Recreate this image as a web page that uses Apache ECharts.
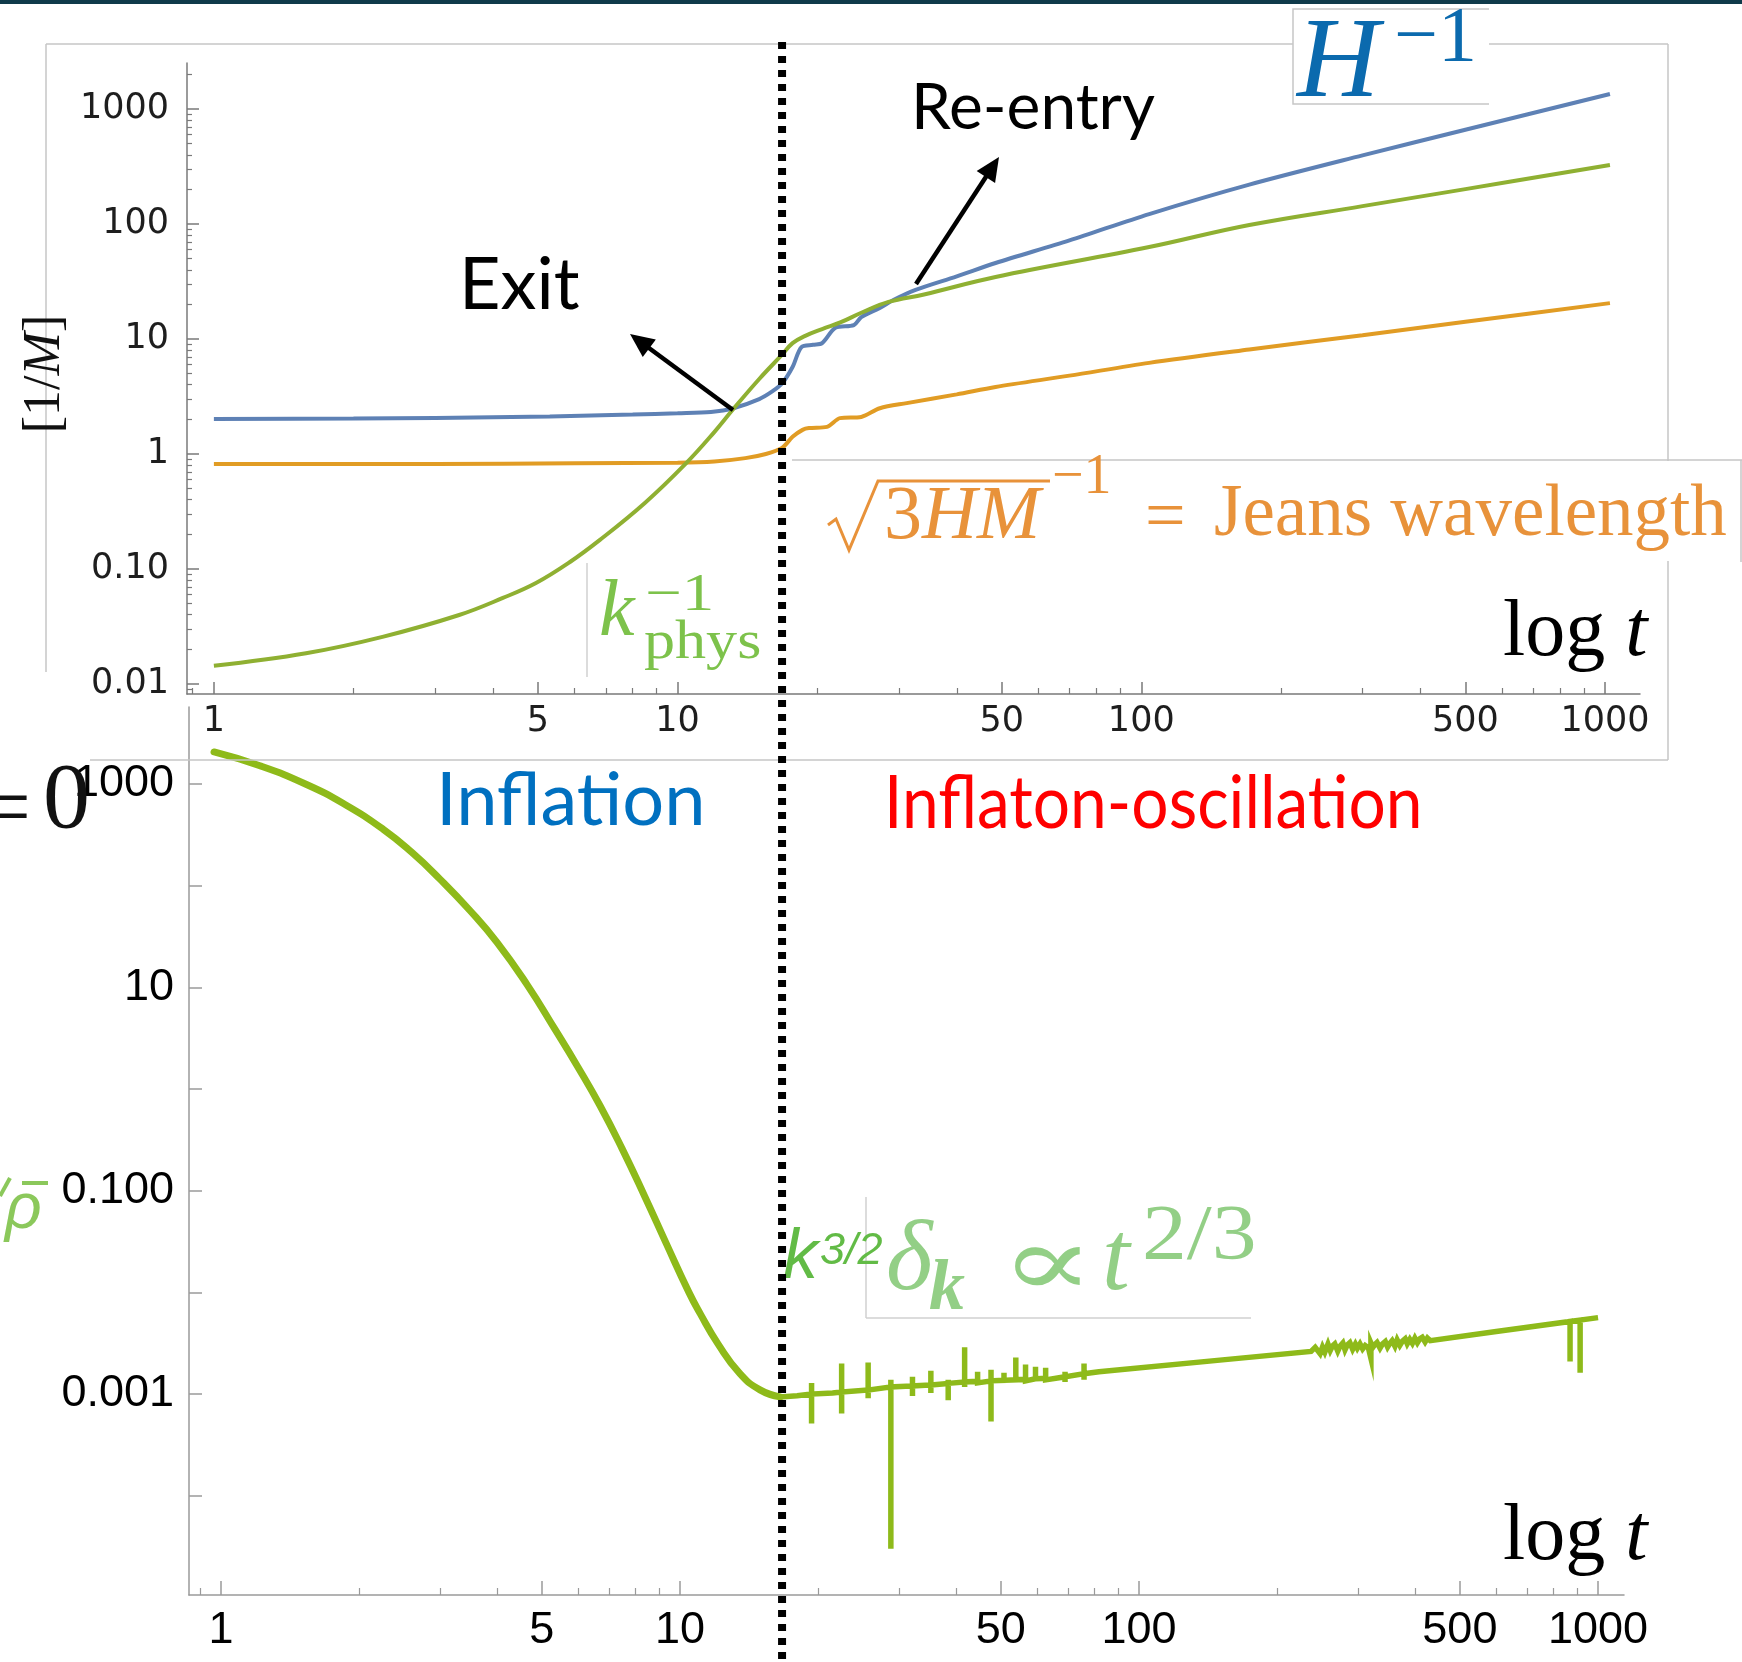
<!DOCTYPE html>
<html>
<head>
<meta charset="utf-8">
<script src="https://cdn.jsdelivr.net/npm/echarts@6/dist/echarts.min.js"></script>
<style>
  html, body { margin: 0; padding: 0; background: #ffffff; }
  #chart { width: 1742px; height: 1662px; }
</style>
</head>
<body>
<div id="chart"></div>
<script>
// ---------- tick values and labels ----------
const tMajorTicks = [1, 5, 10, 50, 100, 500, 1000];
const tTickLabels = ['1', '5', '10', '50', '100', '500', '1000'];
const tMinorTicks = [0.9, 2, 3, 4, 6, 7, 8, 9, 20, 30, 40, 60, 70, 80, 90,
                     200, 300, 400, 600, 700, 800, 900];

const lengthMajorTicks = [0.01, 0.1, 1, 10, 100, 1000];
const lengthTickLabels = ['0.01', '0.10', '1', '10', '100', '1000'];
const lengthMinorTicks = [0.009, 0.02, 0.03, 0.04, 0.05, 0.06, 0.07, 0.08, 0.09,
                          0.2, 0.3, 0.4, 0.5, 0.6, 0.7, 0.8, 0.9,
                          2, 3, 4, 5, 6, 7, 8, 9,
                          20, 30, 40, 50, 60, 70, 80, 90,
                          200, 300, 400, 500, 600, 700, 800, 900, 2000];

const contrastTicks = [0.0001, 0.001, 0.01, 0.1, 1, 10, 100, 1000];
const contrastLabelTicks = [0.001, 0.1, 10, 1000];
const contrastTickLabels = ['0.001', '0.100', '10', '1000'];

// end of inflation (dotted divider)
const inflationEndT = 16.8;

// ---------- upper panel: length scales [1/M] vs t ----------
// Hubble radius H^-1
const hubbleT = [1, 2, 3, 5.3, 8, 10, 11.8, 13.2, 15.0, 16.0, 16.8, 17.7, 18.5, 19.6, 20.5,
                 21.9, 24.0, 24.9, 27.3, 29.2, 32.6, 40, 48.5, 70, 104, 171, 300, 500, 1025];
const hubbleR = [2.01, 2.03, 2.06, 2.12, 2.2, 2.26, 2.32, 2.5, 3.0, 3.5, 4.1, 5.7, 8.5, 8.9, 9.2,
                 12.5, 13.2, 15.5, 18.6, 21.8, 26.7, 35, 45.8, 72, 122, 220, 395, 660, 1350];

// Jeans wavelength (sqrt(3HM))^-1
const jeansT = [1, 3, 6, 10, 12, 14, 15.5, 16.8, 17.7, 18.6, 19.2, 21.0, 22.4, 24.9, 27.3,
                31.2, 40, 48.5, 70, 104, 171, 300, 500, 1025];
const jeansR = [0.82, 0.82, 0.83, 0.84, 0.86, 0.92, 1.0, 1.13, 1.41, 1.62, 1.68, 1.72, 2.05, 2.1, 2.5,
                2.77, 3.3, 3.83, 4.8, 6.2, 8.1, 10.8, 14.1, 20.5];

// physical wavelength k_phys^-1
const kPhysT = [1, 1.58, 2.31, 3.38, 4.2, 4.95, 5.86, 6.8, 8.5, 10.4, 12.0, 13.2, 15.0, 16.8, 17.7, 18.8,
                20.5, 22.5, 24.9, 28.5, 34, 48.5, 104, 171, 300, 500, 1025];
const kPhysR = [0.0144, 0.0185, 0.0257, 0.0398, 0.056, 0.0755, 0.115, 0.179, 0.375, 0.82, 1.55, 2.47, 4.49, 7.3, 9.2, 10.6,
                12.2, 14.0, 16.9, 21.0, 24.4, 34.6, 63, 98, 143, 201, 326];

// ---------- lower panel: density contrast k^{3/2} delta_k ----------
// smooth decay during inflation
const contrastEarlyT = [0.966, 1.216, 1.532, 1.863, 2.254, 2.606, 3.0, 3.487, 3.994, 4.64, 5.34, 5.996,
                        6.694, 7.475, 8.386, 9.322, 10.46, 11.06, 12.10, 13.51, 14.94, 16.52];
const contrastEarlyV = [2065, 1510, 995, 629, 360, 212, 116, 57.0, 27.7, 10.7, 3.88, 1.64,
                        0.689, 0.261, 0.0873, 0.0307, 0.0100, 0.00622, 0.00312, 0.00159, 0.0011, 0.000938];

// growth during inflaton oscillation, with numerical spikes
const contrastLateT = [16.52, 18.0,
  19.35, 19.35, 19.35, 19.35, 21.5,
  22.5, 22.5, 22.5, 22.5,
  25.7, 25.7, 25.7, 25.7,
  28.8, 28.8, 28.8, 28.8,
  32.1, 32.1, 32.1, 32.1,
  35.2, 35.2, 35.2, 35.2,
  38.4, 38.4, 38.4, 38.4,
  41.7, 41.7, 41.7, 41.7,
  44.5, 44.5, 44.5, 44.5,
  47.6, 47.6, 47.6, 47.6,
  50.8, 50.8, 50.8, 50.8,
  53.9, 53.9, 53.9,
  56.6, 56.6, 56.6, 56.6,
  59.5, 59.5, 59.5, 59.5,
  62.6, 62.6, 62.6, 62.6,
  69, 69, 69, 69,
  75.9, 75.9, 75.9, 75.9,
  81.8, 150, 237,
  242, 248, 251, 254, 258, 261, 264, 267, 271, 274, 278, 281, 284, 288, 292, 296, 299, 303, 307, 311,
  316, 320, 320, 323, 326, 330, 335, 339, 344, 348, 352, 356, 361, 365, 370, 375,
  380, 384, 389, 394, 399, 404, 409, 414, 420, 425, 431,
  600, 869, 869, 869, 914, 914, 914, 1000];
const contrastLateV = [0.000938, 0.000965,
  0.001, 0.001288, 0.000513, 0.001, 0.001023,
  0.001047, 0.001995, 0.000646, 0.001047,
  0.001096, 0.002042, 0.000912, 0.001096,
  0.001175, 0.00138, 0.0000302, 0.001175,
  0.001202, 0.001479, 0.000955, 0.001202,
  0.00123, 0.001698, 0.001023, 0.00123,
  0.001274, 0.00138, 0.000871, 0.001274,
  0.001318, 0.002884, 0.001175, 0.001318,
  0.001334, 0.00166, 0.001288, 0.001334,
  0.001349, 0.001738, 0.000537, 0.001349,
  0.001365, 0.001622, 0.001288, 0.001365,
  0.00138, 0.002291, 0.00138,
  0.001396, 0.00195, 0.001349, 0.001396,
  0.001413, 0.001862, 0.001349, 0.001413,
  0.001429, 0.00182, 0.00138, 0.001429,
  0.001479, 0.00166, 0.001318, 0.001479,
  0.001585, 0.001995, 0.00138, 0.001585,
  0.00166, 0.002158, 0.00263,
  0.00288, 0.0025, 0.0029, 0.00258, 0.0031, 0.00268, 0.00298, 0.00312, 0.00265, 0.00295, 0.00318, 0.00272,
  0.00302, 0.0032, 0.00276, 0.0031, 0.00282, 0.00312, 0.00278, 0.0030,
  0.00285, 0.00225, 0.00318, 0.00288, 0.00305, 0.00322, 0.00283, 0.0031, 0.00328, 0.0029, 0.00315, 0.00335,
  0.00296, 0.00342, 0.00302, 0.00333,
  0.0035, 0.00312, 0.00345, 0.00315, 0.00355, 0.0032, 0.0035, 0.00362, 0.00325, 0.00355, 0.00335,
  0.00413, 0.005176, 0.002089, 0.005176, 0.005346, 0.001622, 0.005346, 0.00565];

// ---------- helpers ----------
const zip = (xs, ys) => xs.map((x, i) => [x, ys[i]]);
const nearestLabel = (ticks, labels) => v => {
  let best = 0, bd = Infinity;
  ticks.forEach((t, i) => { const d = Math.abs(Math.log10(t) - Math.log10(v)); if (d < bd) { bd = d; best = i; } });
  return labels[best];
};

const TOP_AXIS = '#7a7a7a';
const BOT_AXIS = '#9a9a9a';
const topLabelFont = { fontFamily: '"DejaVu Sans", sans-serif', fontSize: 35, color: '#1e1e1e' };
const botLabelFont = { fontFamily: '"Liberation Sans Narrow", "Arial Narrow", "Liberation Sans", sans-serif', fontSize: 45, color: '#000' };

function logAxis(opts) {
  return Object.assign({
    type: 'log', logBase: 10,
    splitLine: { show: false },
    minorTick: { show: false },
    minorSplitLine: { show: false }
  }, opts);
}

const chart = echarts.init(document.getElementById('chart'), null, { renderer: 'canvas' });

chart.setOption({
  animation: false,
  backgroundColor: '#ffffff',
  grid: [
    { left: 187, top: 63, width: 1453, height: 631 },
    { left: 189, top: 707, width: 1435, height: 888 }
  ],
  xAxis: [
    logAxis({ gridIndex: 0, min: 0.875, max: 1190, position: 'bottom',
      axisLine: { show: true, onZero: false, lineStyle: { color: TOP_AXIS, width: 1.5 } },
      axisTick: { show: true, inside: true, length: 12, customValues: tMajorTicks, lineStyle: { color: TOP_AXIS, width: 1.5 } },
      axisLabel: Object.assign({ show: true, customValues: tMajorTicks, margin: 10,
        formatter: nearestLabel(tMajorTicks, tTickLabels) }, topLabelFont) }),
    logAxis({ gridIndex: 0, min: 0.875, max: 1190, position: 'bottom',
      axisLine: { show: false, onZero: false },
      axisTick: { show: true, inside: true, length: 6, customValues: tMinorTicks, lineStyle: { color: TOP_AXIS, width: 1.2 } },
      axisLabel: { show: false } }),
    logAxis({ gridIndex: 1, min: 0.852, max: 1139, position: 'bottom',
      axisLine: { show: true, onZero: false, lineStyle: { color: BOT_AXIS, width: 1.5 } },
      axisTick: { show: true, inside: true, length: 14, customValues: tMajorTicks, lineStyle: { color: BOT_AXIS, width: 1.5 } },
      axisLabel: Object.assign({ show: true, customValues: tMajorTicks, margin: 13,
        formatter: nearestLabel(tMajorTicks, tTickLabels) }, botLabelFont) }),
    logAxis({ gridIndex: 1, min: 0.852, max: 1139, position: 'bottom',
      axisLine: { show: false, onZero: false },
      axisTick: { show: true, inside: true, length: 7, customValues: tMinorTicks, lineStyle: { color: BOT_AXIS, width: 1.2 } },
      axisLabel: { show: false } })
  ],
  yAxis: [
    logAxis({ gridIndex: 0, min: 0.00818, max: 2512, position: 'left',
      axisLine: { show: true, onZero: false, lineStyle: { color: TOP_AXIS, width: 1.5 } },
      axisTick: { show: true, inside: true, length: 12, customValues: lengthMajorTicks, lineStyle: { color: TOP_AXIS, width: 1.5 } },
      axisLabel: Object.assign({ show: true, customValues: lengthMajorTicks, margin: 18,
        formatter: nearestLabel(lengthMajorTicks, lengthTickLabels) }, topLabelFont) }),
    logAxis({ gridIndex: 0, min: 0.00818, max: 2512, position: 'left',
      axisLine: { show: false, onZero: false },
      axisTick: { show: true, inside: true, length: 5, customValues: lengthMinorTicks, lineStyle: { color: TOP_AXIS, width: 1.2 } },
      axisLabel: { show: false } }),
    logAxis({ gridIndex: 1, min: 1.057e-5, max: 5715, position: 'left',
      axisLine: { show: true, onZero: false, lineStyle: { color: BOT_AXIS, width: 1.5 } },
      axisTick: { show: true, inside: true, length: 13, customValues: contrastTicks, lineStyle: { color: BOT_AXIS, width: 1.5 } },
      axisLabel: Object.assign({ show: true, customValues: contrastLabelTicks, margin: 15,
        formatter: nearestLabel(contrastLabelTicks, contrastTickLabels) }, botLabelFont) })
  ],
  series: [
    { name: 'H^-1', type: 'line', xAxisIndex: 0, yAxisIndex: 0, showSymbol: false, smooth: 0.3,
      data: zip(hubbleT, hubbleR), lineStyle: { color: '#5E81B5', width: 4 }, z: 3 },
    { name: 'Jeans', type: 'line', xAxisIndex: 0, yAxisIndex: 0, showSymbol: false, smooth: 0.3,
      data: zip(jeansT, jeansR), lineStyle: { color: '#E19C24', width: 4 }, z: 3 },
    { name: 'k_phys^-1', type: 'line', xAxisIndex: 0, yAxisIndex: 0, showSymbol: false, smooth: 0.4,
      data: zip(kPhysT, kPhysR), lineStyle: { color: '#8FB032', width: 4 }, z: 4 },
    { name: 'contrast-inflation', type: 'line', xAxisIndex: 2, yAxisIndex: 2, showSymbol: false, smooth: 0.5,
      data: zip(contrastEarlyT, contrastEarlyV), lineStyle: { color: '#8EBA1A', width: 7, cap: 'round' }, z: 3 },
    { name: 'contrast-oscillation', type: 'line', xAxisIndex: 2, yAxisIndex: 2, showSymbol: false, smooth: false,
      data: zip(contrastLateT, contrastLateV), lineStyle: { color: '#8EBA1A', width: 5.5, join: 'miter' }, z: 3 }
  ]
});

// ---------- annotations ----------
const serif = '"Liberation Serif", "Times New Roman", serif';
const sans = 'Lato, "Open Sans", sans-serif';
const FRAME = '#c6c6c6';

function arrow(x1, y1, x2, y2) {
  const dx = x2 - x1, dy = y2 - y1, len = Math.hypot(dx, dy);
  const ux = dx / len, uy = dy / len, L = 24, W = 11;
  const bx = x2 - ux * L, by = y2 - uy * L;
  return [
    { type: 'line', z: 60, shape: { x1, y1, x2: bx + ux * 3, y2: by + uy * 3 }, style: { stroke: '#000', lineWidth: 4.5 } },
    { type: 'polygon', z: 60, shape: { points: [[x2, y2], [bx - uy * W, by + ux * W], [bx + uy * W, by - ux * W]] }, style: { fill: '#000' } }
  ];
}
function txt(x, y, text, font, fill, extra, align) {
  return Object.assign({ type: 'text', x, y, z: 70,
    style: { text, font, fill, align: align || 'left', verticalAlign: 'middle' } }, extra || {});
}
function seg(x1, y1, x2, y2, stroke, w, z) {
  return { type: 'line', z: z || 50, shape: { x1, y1, x2, y2 }, style: { stroke, lineWidth: w } };
}
function logT(y) {
  return { type: 'text', x: 1503, y, z: 70, style: {
    text: '{a|log }{b|t}', align: 'left', verticalAlign: 'middle',
    rich: { a: { fontFamily: serif, fontSize: 80, fill: '#000' },
            b: { fontFamily: serif, fontSize: 80, fontStyle: 'italic', fill: '#000' } } } };
}

const divX = chart.convertToPixel({ xAxisIndex: 0 }, inflationEndT);

const JEANS = '#E8923A';
const KPHYS = '#7DC24B';
const GROWTH = '#93CF86';

const elements = [
  // dark strip along the top edge
  { type: 'rect', z: 50, shape: { x: 0, y: 0, width: 1742, height: 4 }, style: { fill: '#0f3a4a' } },

  // frame of the upper panel
  seg(46, 44, 46, 672, FRAME, 1.5),
  seg(46, 44, 1668, 44, FRAME, 1.5),
  seg(1668, 44, 1668, 760, FRAME, 1.5),
  seg(90, 760, 1668, 760, FRAME, 1.5),
  { type: 'rect', z: 52, shape: { x: 0, y: 674, width: 92, height: 85 }, style: { fill: '#ffffff' } },

  // H^-1 tag
  { type: 'rect', z: 55, shape: { x: 1293, y: 9, width: 196, height: 95 }, style: { fill: '#ffffff' } },
  { type: 'polyline', z: 56, shape: { points: [[1489, 9], [1293, 9], [1293, 104], [1489, 104]] }, style: { stroke: FRAME, lineWidth: 1.5, fill: null } },
  txt(1297, 66, 'H', 'italic 114px ' + serif, '#0B6AAE'),
  txt(1394, 40, '\u22121', '78px ' + serif, '#0B6AAE'),

  // Jeans wavelength tag
  { type: 'rect', z: 55, shape: { x: 792, y: 461, width: 950, height: 100 }, style: { fill: '#ffffff' } },
  seg(792, 460, 1742, 460, FRAME, 1.5, 56),
  seg(1741, 460, 1741, 562, FRAME, 1.5, 56),
  { type: 'polyline', z: 70, shape: { points: [[828, 525], [836, 519], [849, 550], [878, 481], [1050, 481]] },
    style: { stroke: JEANS, lineWidth: 3, fill: null } },
  { type: 'text', x: 884, y: 518, z: 70, style: {
      text: '{u|3}{i|HM}', verticalAlign: 'middle', align: 'left',
      rich: { u: { fontFamily: serif, fontSize: 76, fill: JEANS },
              i: { fontFamily: serif, fontSize: 76, fontStyle: 'italic', fill: JEANS } } } },
  txt(1052, 478, '\u22121', '56px ' + serif, JEANS),
  txt(1145, 520, '=', '72px ' + serif, JEANS),
  txt(1214, 516, 'Jeans wavelength', '73px ' + serif, JEANS),

  // k_phys^-1 tag
  seg(587, 563, 587, 677, '#d0d0d0', 1.5),
  txt(599, 614, 'k', 'italic 80px ' + serif, KPHYS),
  txt(645, 596, '\u22121', '52px ' + serif, KPHYS, { scaleX: 1.25 }),
  txt(644, 644, 'phys', '54px ' + serif, KPHYS, { scaleX: 1.15 }),

  // axis titles
  { type: 'text', x: 45, y: 374, rotation: Math.PI / 2, z: 70, style: {
      text: '{a|[1/}{b|M}{a|]}', align: 'center', verticalAlign: 'middle',
      rich: { a: { fontFamily: serif, fontSize: 52, fill: '#111' },
              b: { fontFamily: serif, fontSize: 52, fontStyle: 'italic', fill: '#111' } } } },
  logT(634),
  logT(1538),

  // crossing annotations
  txt(459, 286, 'Exit', '72px ' + sans, '#000'),
  txt(911, 108, 'Re-entry', '64px ' + sans, '#000'),
  ...arrow(733, 410, 630, 334),
  ...arrow(916, 284, 999, 157),

  // epochs
  txt(436, 801, 'Inflation', '74px ' + sans, '#0070C0'),
  txt(884, 804, 'Inflaton-oscillation', '74px ' + sans, '#FF0000', { scaleX: 0.89 }),

  // left margin pieces of the lower panel title
  txt(31, 813, '=', '89px ' + serif, '#111', null, 'right'),
  txt(90, 802, '0', '94px ' + serif, '#111', null, 'right'),
  seg(0, 1196, 10, 1178, '#8BC85B', 4, 70),
  seg(22, 1183, 48, 1183, '#8BC85B', 4, 70),
  txt(5, 1210, '\u03c1', 'italic 64px "Liberation Sans", sans-serif', '#8BC85B'),

  // growth-law tag
  seg(866, 1197, 866, 1318, '#d0d0d0', 1.5),
  seg(866, 1318, 1251, 1318, '#d0d0d0', 1.5),
  txt(783, 1259, 'k', 'italic 70px "Liberation Sans", sans-serif', '#62BB46'),
  txt(820, 1251, '3/2', 'italic 45px "Liberation Sans", sans-serif', '#62BB46'),
  txt(886, 1263, '\u03b4', 'italic 100px ' + serif, GROWTH),
  txt(929, 1290, 'k', 'italic bold 72px ' + serif, GROWTH),
  txt(1000, 1270, '\u221d', '100px "DejaVu Serif", serif', GROWTH, { scaleX: 1.4 }),
  txt(1102, 1263, 't', 'italic 100px ' + serif, GROWTH),
  txt(1142, 1238, '2/3', '78px ' + serif, GROWTH, { scaleX: 1.15 }),

  // divider between the two epochs
  { type: 'line', z: 80, shape: { x1: divX, y1: 42, x2: divX, y2: 1662 },
    style: { stroke: '#000', lineWidth: 8, lineDash: [7, 7] } }
];

chart.setOption({ graphic: { elements } });
</script>
</body>
</html>
